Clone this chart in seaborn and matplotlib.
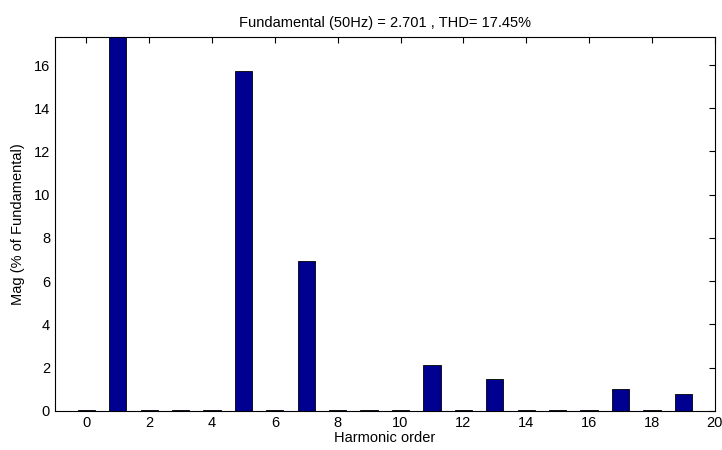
import matplotlib
matplotlib.use("Agg")
import matplotlib.pyplot as plt
import seaborn as sns
import pandas as pd

harmonics = list(range(0, 20))
magnitudes = [0.06, 100.0, 0.06, 0.05, 0.06, 15.72, 0.06, 6.95, 0.06, 0.05,
              0.06, 2.12, 0.06, 1.48, 0.06, 0.05, 0.06, 1.02, 0.06, 0.8]
title = "Fundamental (50Hz) = 2.701 , THD= 17.45%"

sns.set_style("white")
plt.rcParams['font.family'] = ['Liberation Sans Narrow', 'Liberation Sans', 'DejaVu Sans']
plt.rcParams['text.color'] = 'black'
plt.rcParams['axes.labelcolor'] = 'black'
plt.rcParams['xtick.color'] = 'black'
plt.rcParams['ytick.color'] = 'black'

df = pd.DataFrame({"h": harmonics, "mag": magnitudes})

fig = plt.figure(figsize=(7.22, 4.5), dpi=100)
ax = fig.add_axes([0.076, 0.087, 0.914, 0.831])
sns.barplot(data=df, x="h", y="mag", native_scale=True, width=0.55,
            color="#000090", saturation=1, edgecolor="black", linewidth=0.6, ax=ax)
ax.set_xlim(-1, 20)
ax.set_ylim(0, 17.3)
ax.set_xticks(range(0, 21, 2))
ax.set_yticks(range(0, 17, 2))
ax.tick_params(direction="in", top=True, right=True, labelsize=10.5, length=4,
               color="black", labelcolor="black")
for s in ax.spines.values():
    s.set_color("black")
    s.set_linewidth(0.8)
ax.set_xlabel("Harmonic order", fontsize=10.5, labelpad=1, color="black")
ax.set_ylabel("Mag (% of Fundamental)", fontsize=10.5, labelpad=6, color="black")
ax.set_title(title, fontsize=10.5, pad=7, color="black")
fig.savefig("out.png", dpi=100)
